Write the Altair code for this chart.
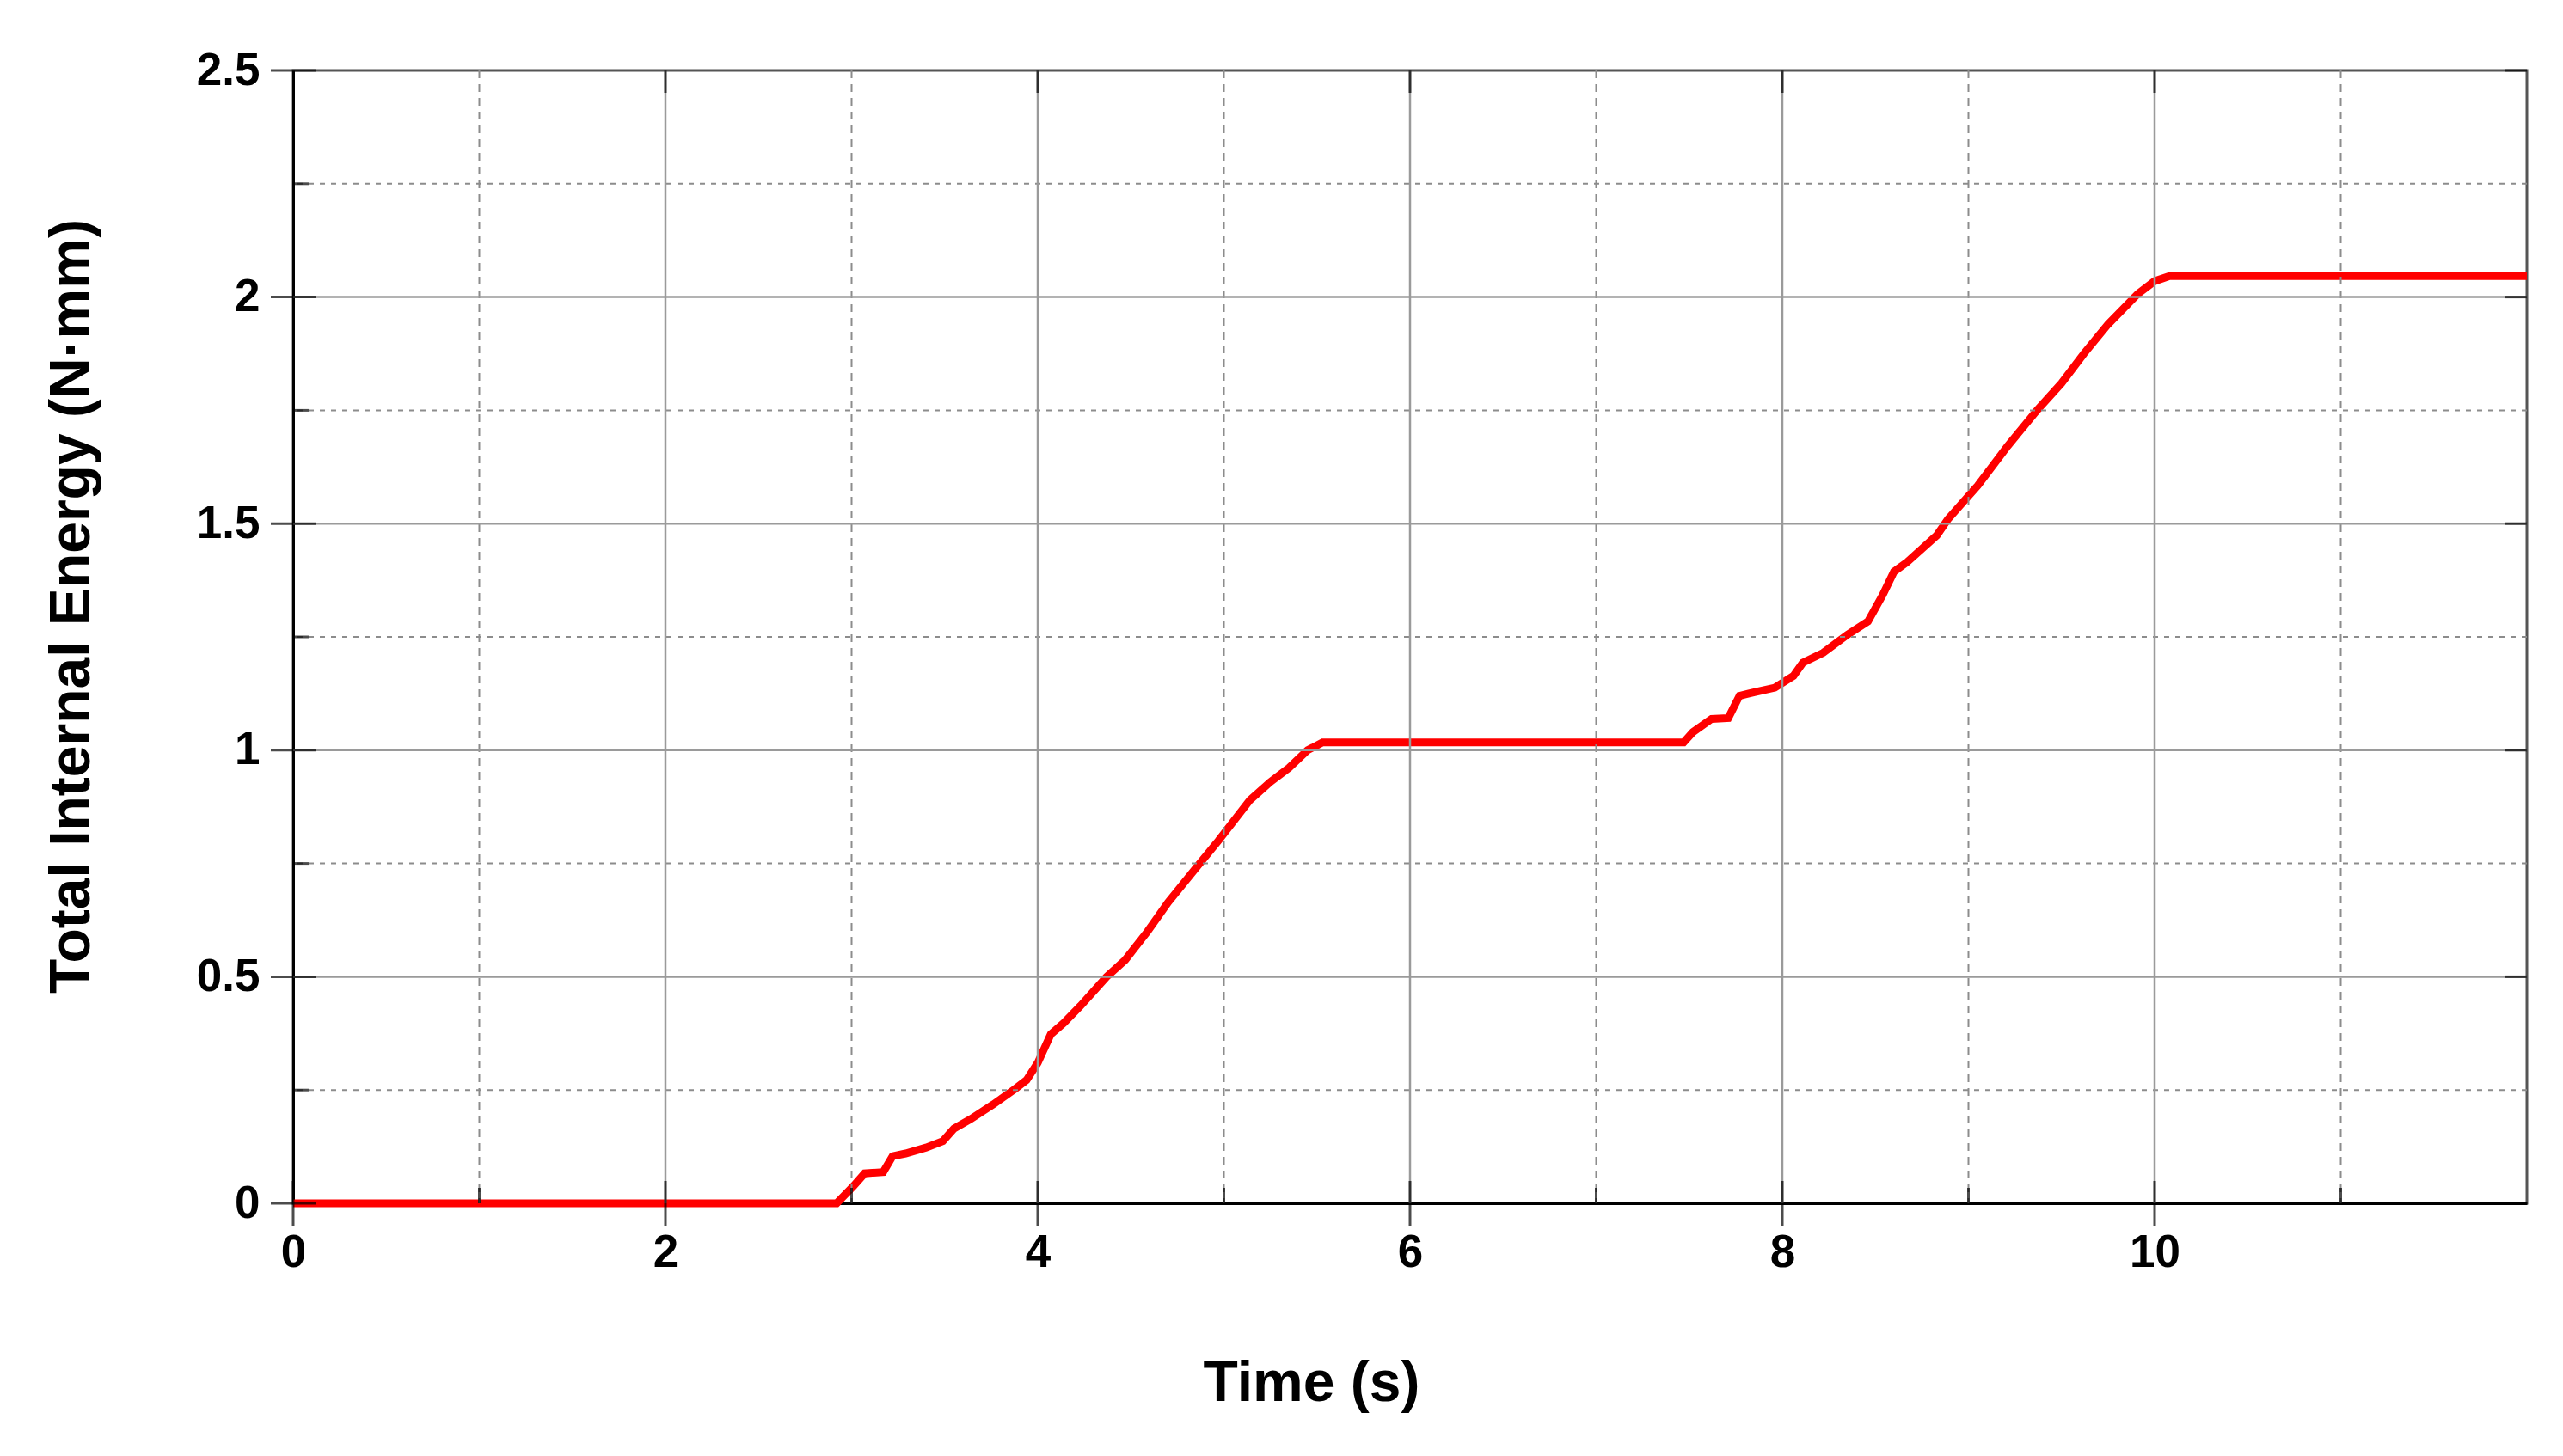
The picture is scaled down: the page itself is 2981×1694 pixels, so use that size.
import altair as alt
import pandas as pd

# Curve data (time in s, energy in N·mm)
time_s = [0.0, 2.92, 3.01, 3.07, 3.17, 3.22, 3.29, 3.40, 3.49, 3.55, 3.64, 3.76, 3.88, 3.94,
          4.00, 4.07, 4.14, 4.23, 4.37, 4.47, 4.59, 4.70, 4.85, 4.97, 5.14, 5.25, 5.35, 5.45,
          5.53, 7.47, 7.52, 7.62, 7.71, 7.77, 7.85, 7.96, 8.06, 8.11, 8.22, 8.35, 8.46, 8.54,
          8.60, 8.67, 8.83, 8.89, 9.05, 9.21, 9.37, 9.50, 9.62, 9.75, 9.91, 10.00, 10.08, 12.0]
energy = [0.0, 0.0, 0.038, 0.066, 0.069, 0.104, 0.110, 0.123, 0.137, 0.165, 0.186, 0.218, 0.253, 0.272,
          0.310, 0.373, 0.398, 0.436, 0.500, 0.537, 0.600, 0.664, 0.740, 0.800, 0.890, 0.930, 0.961, 1.000,
          1.017, 1.017, 1.040, 1.069, 1.071, 1.120, 1.128, 1.138, 1.164, 1.193, 1.215, 1.255, 1.284, 1.343,
          1.394, 1.415, 1.474, 1.510, 1.584, 1.671, 1.751, 1.810, 1.875, 1.940, 2.007, 2.035, 2.046, 2.046]

x_major = [0, 2, 4, 6, 8, 10]
x_minor = [1, 3, 5, 7, 9, 11]
y_major = [0, 0.5, 1, 1.5, 2, 2.5]
y_minor = [0.25, 0.75, 1.25, 1.75, 2.25]

X_DOMAIN = [0, 12]
Y_DOMAIN = [0, 2.5]

curve = pd.DataFrame({"t": time_s, "e": energy})

xs = alt.Scale(domain=X_DOMAIN, nice=False, zero=False)
ys = alt.Scale(domain=Y_DOMAIN, nice=False, zero=False)

X_TITLE = "Time (s)"
Y_TITLE = "Total Internal Energy (N·mm)"

GRID = "#8c8c8c"


def xenc(field="t"):
    return alt.X(f"{field}:Q", scale=xs, title=X_TITLE)


def yenc(field="e"):
    return alt.Y(f"{field}:Q", scale=ys, title=Y_TITLE)


def vdf(vals):
    return pd.DataFrame({"t": vals})


def hdf(vals):
    return pd.DataFrame({"e": vals})


vgrid_minor = alt.Chart(vdf(x_minor)).mark_rule(color=GRID, strokeWidth=2, strokeDash=[9, 7]).encode(x=xenc())
hgrid_minor = alt.Chart(hdf(y_minor)).mark_rule(color=GRID, strokeWidth=2, strokeDash=[6, 7]).encode(y=yenc())
vgrid_major = alt.Chart(vdf([v for v in x_major if v > 0])).mark_rule(color="#9a9a9a", strokeWidth=2.5).encode(x=xenc())
hgrid_major = alt.Chart(hdf([v for v in y_major if 0 < v < 2.5])).mark_rule(color="#9a9a9a", strokeWidth=2.5).encode(y=yenc())

line = alt.Chart(curve).mark_line(color="#ff0000", strokeWidth=9, interpolate="linear").encode(
    x=alt.X("t:Q", scale=xs, title=X_TITLE,
            axis=alt.Axis(values=x_major, format="~g", grid=False,
                          ticks=False, tickSize=0, labelPadding=31, domain=True,
                          domainColor="#000000", domainWidth=3,
                          labelFont="Liberation Sans", labelFontSize=53, labelFontWeight="bold",
                          labelColor="#000000", labelFlush=False,
                          titleFont="Liberation Sans", titleFontSize=66, titleFontWeight="bold",
                          titleColor="#000000", titleX=1184, titleY=229,
                          titleAlign="center", titleBaseline="alphabetic")),
    y=alt.Y("e:Q", scale=ys, title=Y_TITLE,
            axis=alt.Axis(values=y_major, format="~g",
                          grid=False, ticks=False, tickSize=0, labelPadding=39, domain=True,
                          domainColor="#000000", domainWidth=3,
                          labelFont="Liberation Sans", labelFontSize=53, labelFontWeight="bold",
                          labelColor="#000000", labelFlush=False,
                          titleFont="Liberation Sans", titleFontSize=66, titleFontWeight="bold",
                          titleColor="#000000", titleX=-238, titleY=623, titleAngle=270,
                          titleAlign="center", titleBaseline="alphabetic")),
)

# tick marks
xtick_major = alt.Chart(pd.DataFrame({"t": x_major, "e": [0] * len(x_major)})).mark_tick(
    color="#000000", thickness=3, size=52, orient="vertical").encode(x=xenc(), y=yenc())
xtick_minor = alt.Chart(pd.DataFrame({"t": x_minor, "e": [0] * len(x_minor)})).mark_tick(
    color="#000000", thickness=3, size=18, orient="vertical", yOffset=-9).encode(x=xenc(), y=yenc())
xtick_top = alt.Chart(pd.DataFrame({"t": x_major[1:], "e": [2.5] * (len(x_major) - 1)})).mark_tick(
    color="#000000", thickness=3, size=26, orient="vertical", yOffset=13).encode(x=xenc(), y=yenc())
ytick_major = alt.Chart(pd.DataFrame({"e": y_major, "t": [0] * len(y_major)})).mark_tick(
    color="#000000", thickness=3, size=52, orient="horizontal").encode(x=xenc(), y=yenc())
ytick_minor = alt.Chart(pd.DataFrame({"e": y_minor, "t": [0] * len(y_minor)})).mark_tick(
    color="#000000", thickness=3, size=18, orient="horizontal", xOffset=9).encode(x=xenc(), y=yenc())
ytick_right = alt.Chart(pd.DataFrame({"e": y_major[1:], "t": [12] * (len(y_major) - 1)})).mark_tick(
    color="#000000", thickness=3, size=26, orient="horizontal", xOffset=-13).encode(x=xenc(), y=yenc())

chart = alt.layer(
    line,
    vgrid_minor, hgrid_minor, vgrid_major, hgrid_major,
    xtick_minor, ytick_minor, xtick_top, ytick_right,
    xtick_major, ytick_major,
).properties(
    width=2598, height=1318,
    autosize=alt.AutoSizeParams(type="none"),
    padding={"left": 333, "top": 74, "right": 30, "bottom": 270},
).configure(
    background="white",
    view=alt.ViewConfig(stroke="#555555", strokeWidth=3),
)

chart.save("out.html", embed_options={"renderer": "svg", "actions": False})
